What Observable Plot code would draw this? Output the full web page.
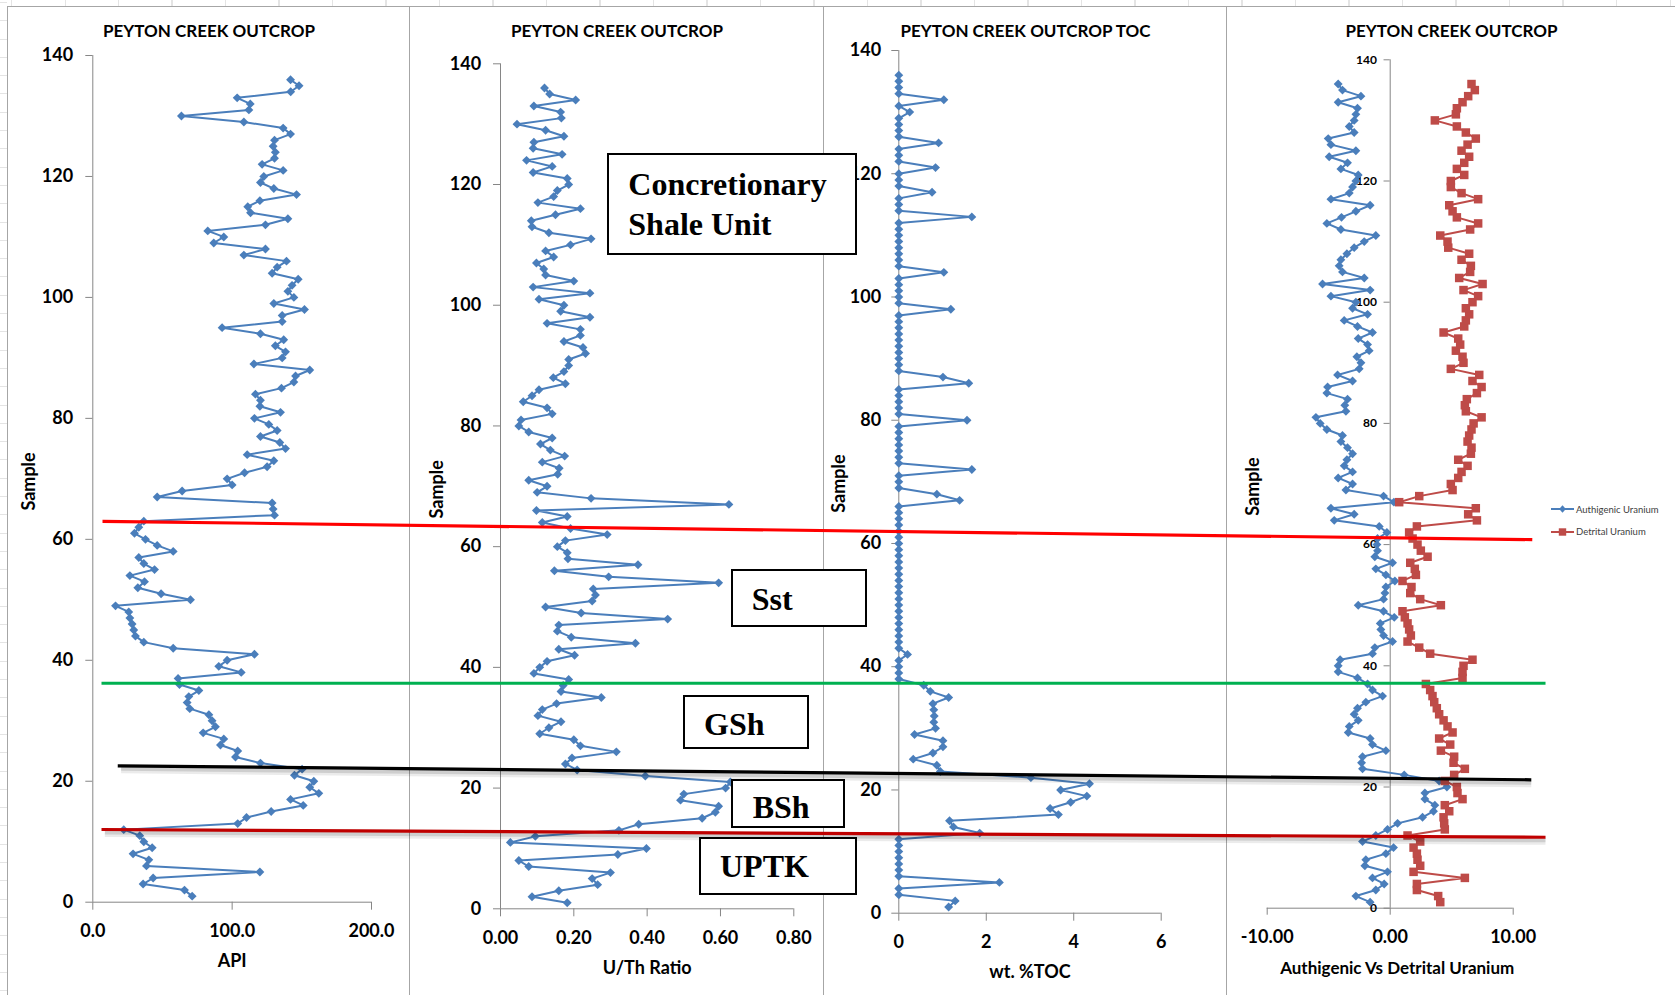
<!DOCTYPE html>
<html>
<head>
<meta charset="utf-8">
<script src="https://cdn.jsdelivr.net/npm/d3@7"></script>
<script src="https://cdn.jsdelivr.net/npm/@observablehq/plot@0.6"></script>
<style>
  html, body { margin: 0; padding: 0; background: #fff; }
  #page { position: relative; width: 1675px; height: 995px; overflow: hidden; background: #fff; font-family: Lato, "Liberation Sans", sans-serif; }
  .abs { position: absolute; }
  .vline { position: absolute; width: 1px; background: #a6a6a6; }
  .hline { position: absolute; height: 1px; background: #a6a6a6; }
  .box { position: absolute; box-sizing: border-box; border: 2px solid #000; background: #fff; color: #000;
         font-family: "Liberation Serif", "Times New Roman", serif; font-weight: bold; font-size: 32px; line-height: 40px; white-space: nowrap; }
  .legend-row { position: absolute; display: flex; align-items: center; font-family: Lato, "Liberation Sans", sans-serif; font-size: 9.5px; color: #404040; white-space: nowrap; }
</style>
</head>
<body>
<div id="page"></div>
<script>
// ---------------- DATA ----------------
const sample = [1,2,3,4,5,6,7,8,9,10,11,12,13,14,15,16,17,18,19,20,21,22,23,24,25,26,27,28,29,30,31,32,33,34,35,36,37,38,39,40,41,42,43,44,45,46,47,48,49,50,51,52,53,54,55,56,57,58,59,60,61,62,63,64,65,66,67,68,69,70,71,72,73,74,75,76,77,78,79,80,81,82,83,84,85,86,87,88,89,90,91,92,93,94,95,96,97,98,99,100,101,102,103,104,105,106,107,108,109,110,111,112,113,114,115,116,117,118,119,120,121,122,123,124,125,126,127,128,129,130,131,132,133,134,135,136];

// Gamma ray (API) per sample
const api = [71.3,65.8,36.1,43.3,119.9,38.5,40.2,28.9,42.6,36.6,
  33.7,22.2,104,110.3,128,151,141.9,162.2,155.7,158.6,
  144.7,150.2,120.3,102.4,104,91.6,94,79.2,88,85.6,
  83.3,69.6,67.7,68.9,76.1,62.2,61.2,106.5,90.4,96.4,
  116,57.7,36.6,30.6,29.4,28.2,26.6,25.8,16.3,70.1,
  49,32.3,37.1,26.6,44.3,36.6,33,57.7,46.2,37.8,
  29.9,33,36.6,130.4,129.4,128.7,46.2,64.1,100,96.4,
  108.9,125.1,129.9,110.8,138.3,134.2,120.3,132.3,126.3,116,
  134.7,119.9,120.3,116.7,135.4,144.3,145.5,155.7,115.6,135.9,
  138.3,131,137,120.3,92.8,135.9,135.9,151.9,129.9,144.3,
  140,143,147.4,128.7,132.3,139,108.4,123.9,86.8,94,
  82.5,123.9,140,113.2,111.2,119.9,146.2,129.9,120.3,122.7,
  136.6,121.5,130.4,131,129.4,130.4,141.9,136.6,108.4,63.6,
  112,113,103.6,142,148,141.9];

// U/Th ratio per sample
const uth = [0.182,0.086,0.159,0.265,0.25,0.3,0.077,0.05,0.32,0.398,
  0.027,0.095,0.323,0.377,0.55,0.586,0.595,0.491,0.5,0.614,
  0.627,0.395,0.209,0.177,0.195,0.316,0.218,0.2,0.107,0.132,
  0.165,0.102,0.114,0.153,0.275,0.165,0.171,0.186,0.091,0.107,
  0.127,0.202,0.159,0.368,0.193,0.155,0.159,0.456,0.22,0.123,
  0.25,0.259,0.253,0.595,0.295,0.147,0.375,0.184,0.182,0.155,
  0.177,0.291,0.191,0.114,0.182,0.098,0.623,0.247,0.1,0.127,
  0.077,0.156,0.16,0.114,0.175,0.136,0.109,0.141,0.077,0.05,
  0.056,0.141,0.127,0.062,0.086,0.105,0.177,0.144,0.173,0.186,
  0.186,0.232,0.225,0.173,0.218,0.218,0.127,0.244,0.164,0.173,
  0.105,0.244,0.089,0.2,0.123,0.118,0.098,0.145,0.123,0.191,
  0.247,0.132,0.086,0.084,0.15,0.218,0.102,0.145,0.155,0.186,
  0.182,0.089,0.141,0.071,0.168,0.089,0.091,0.173,0.123,0.045,
  0.166,0.164,0.091,0.205,0.134,0.12];

// wt. % TOC per sample
const toc = [1.14,1.29,0,0,2.3,0,0,0,0,0,
  0,0,1.85,1.25,1.16,3.65,3.46,3.93,4.3,3.7,
  4.36,3.02,0.95,0.87,0.33,0.78,1.01,1.01,0.36,0.84,
  0.8,0.81,0.8,0.78,1.14,0.72,0.57,0,0,0,
  0,0.2,0,0,0,0,0,0,0,0,
  0,0,0,0,0,0,0,0,0,0,
  0,0,0,0,0,0,1.39,0.87,0,0,
  0,1.67,0,0,0,0,0,0,0,1.56,
  0,0,0,0,0,1.6,1.01,0,0,0,
  0,0,0,0,0,0,0,1.19,0,0,
  0,0,0,1.03,0,0,0,0,0,0,
  0,0,1.67,0,0,0,0.76,0,0,0,
  0.84,0,0,0,0.91,0,0,0,0,0.25,
  0,1.03,0,0,0,0];

// Authigenic uranium per sample
const authigenic = [-1.63,-2.79,-1.17,-0.49,-1.44,-0.22,-2.06,-1.98,-0.35,0.27,
  -2.25,-1.17,-0.22,0.6,2.63,3.52,3.63,2.82,2.82,4.61,
  3.98,1.14,-2.25,-2.33,-2.25,-0.35,-1.44,-1.63,-3.41,-3.33,
  -2.6,-2.93,-2.66,-1.98,-0.62,-1.44,-1.84,-2.66,-4.23,-4.23,
  -4.07,-1.44,-1.25,0.19,-0.54,-0.76,-0.81,0.33,-0.54,-2.6,
  -0.54,-0.43,-0.35,0.38,-0.35,-1.17,0.19,-1.25,-1.03,-1.08,
  -1.03,-0.27,-0.89,-4.55,-2.93,-4.82,0.3,-0.54,-3.6,-3.06,
  -4.23,-3.06,-3.74,-3.52,-3.06,-3.47,-4.01,-3.88,-5.15,-5.69,
  -6.04,-3.6,-3.69,-3.47,-5.15,-5.09,-3.06,-4.28,-2.52,-2.38,
  -2.71,-1.71,-1.84,-2.6,-1.44,-2.66,-3.74,-1.84,-3.06,-2.79,
  -4.82,-1.63,-5.5,-2.11,-3.88,-4.15,-4.01,-3.52,-2.93,-2.11,
  -1.17,-4.01,-5.15,-3.96,-2.79,-1.63,-4.82,-3.33,-3.06,-2.79,
  -2.6,-4.01,-3.47,-4.96,-2.79,-4.82,-5.04,-2.93,-3.33,-2.93,
  -2.79,-2.66,-4.23,-2.38,-3.88,-4.23];

// Detrital uranium per sample
const detrital = [4.07,3.9,2.17,2.17,6.07,1.9,2.44,2.22,2.17,1.9,
  2.44,1.41,4.44,4.39,4.34,4.8,4.44,5.88,5.47,5.42,
  4.44,5.2,6.07,5.15,5.2,4.12,4.88,3.98,5.07,4.66,
  4.34,3.98,3.79,3.58,3.44,3.25,2.9,5.88,5.88,5.96,
  6.69,3.25,2.36,1.41,1.68,1.54,1.41,1.19,1.0,4.12,
  2.44,1.63,1.73,1.0,2.09,2.0,1.63,3.04,2.49,2.22,
  1.82,1.54,2.17,7.05,6.34,6.96,0.73,2.36,5.07,4.93,
  5.53,5.8,6.29,5.53,6.56,6.61,6.29,6.42,6.61,6.78,
  7.43,6.15,6.07,6.23,7.05,7.43,6.69,7.24,4.93,5.96,
  5.88,5.34,5.69,5.53,4.34,6.02,6.15,6.42,6.15,6.69,
  7.15,5.96,7.51,5.61,6.5,6.56,5.8,6.42,4.72,4.66,
  4.07,6.5,7.15,5.42,5.07,4.8,7.15,5.8,4.93,4.93,
  6.02,5.42,6.02,6.42,5.8,6.29,6.96,6.15,5.42,3.63,
  5.34,5.42,5.88,6.34,6.88,6.61];

// tick labels
const sampleTicks = [0,20,40,60,80,100,120,140];
const apiTicks = [0,100,200];
const uthTicks = [0,0.2,0.4,0.6,0.8];
const tocTicks = [0,2,4,6];
const uraniumTicks = [-10,0,10];

// unit boundaries (sample level at left end / right end of each drawn line)
const boundaryNames = ["Concretionary Shale Unit / Sst", "Sst / GSh", "GSh / BSh", "BSh / UPTK"];
const boundaryLeft  = [62.98, 36.2, 22.55, 12.02];
const boundaryRight = [59.95, 36.2, 20.24, 10.74];

// unit labels
const unitLabels = [["Concretionary", "Shale Unit"], ["Sst"], ["GSh"], ["BSh"], ["UPTK"]];

// ---------------- STYLE ----------------
const BLUE = "#4a7ebb";
const RED = "#be4b48";
const AXIS = "#868686";
const FONT = 'Lato, "Liberation Sans", sans-serif';
const H = 995;

const rows = sample.map((s, i) => ({sample: s, api: api[i], uth: uth[i], toc: toc[i], auth: authigenic[i], detr: detrital[i]}));

const root = document.getElementById("page");
function place(node, left, top, z) {
  const w = document.createElement("div");
  w.className = "abs";
  w.style.left = left + "px"; w.style.top = top + "px"; w.style.zIndex = z;
  w.appendChild(node);
  root.appendChild(w);
  return w;
}

// background spreadsheet / chart-area borders
(function borders() {
  const top = document.createElement("div");
  top.className = "abs";
  top.style.cssText = "left:0;top:0;width:1675px;height:6px;background-image:repeating-linear-gradient(to right,#e4e4e4 0 1px,transparent 1px 53.5px);background-position:11px 0;";
  root.appendChild(top);
  const left = document.createElement("div");
  left.className = "abs";
  left.style.cssText = "left:0;top:0;width:7px;height:995px;background-image:repeating-linear-gradient(to bottom,#e4e4e4 0 1px,transparent 1px 18.3px);background-position:0 2px;";
  root.appendChild(left);
  const h = document.createElement("div"); h.className = "hline";
  h.style.left = "7px"; h.style.top = "6px"; h.style.width = "1668px"; root.appendChild(h);
  for (const x of [7, 409, 823, 1226]) {
    const v = document.createElement("div"); v.className = "vline";
    v.style.left = x + "px"; v.style.top = "6px"; v.style.height = "989px"; root.appendChild(v);
  }
})();

const baseStyle = {background: "transparent", overflow: "visible", fontFamily: FONT, fontWeight: "bold", color: "#000"};

function titleMark(text, cfg, size = 17) {
  return Plot.text([text], {text: d => d, frameAnchor: "top", lineAnchor: "middle", textAnchor: "middle", dx: (cfg.mr - cfg.ml) / 2, dy: 30.6 - cfg.mt, fontSize: size, fontWeight: "bold", fill: "#000"});
}
function xTitle(text, dy, dx = 0, size = 18) {
  return Plot.text([text], {text: d => d, frameAnchor: "bottom", lineAnchor: "middle", textAnchor: "middle", dx, dy, fontSize: size, fontWeight: "bold", fill: "#000"});
}
function yTitle(dx, dy) {
  return Plot.text(["Sample"], {text: d => d, frameAnchor: "left", lineAnchor: "middle", textAnchor: "middle", rotate: -90, dx, dy, fontSize: 18, fontWeight: "bold", fill: "#000"});
}
function stdAxes(xDomain, xTicks, fmt, yPad) {
  return [
    Plot.ruleY([0], {x1: xDomain[0], x2: xDomain[1], stroke: AXIS}),
    Plot.ruleX([xDomain[0]], {y1: 0, y2: 140, stroke: AXIS}),
    Plot.axisY({ticks: sampleTicks, tickSize: 7, tickPadding: yPad, stroke: AXIS, fill: "#000", fontSize: 18, fontWeight: "bold", label: null}),
    Plot.axisX({ticks: xTicks, tickFormat: fmt, tickSize: 8, tickPadding: 14, stroke: AXIS, fill: "#000", fontSize: 18, fontWeight: "bold", label: null})
  ];
}
function profile(key, color, symbol, r) {
  return [
    Plot.line(rows, {x: key, y: "sample", stroke: color, strokeWidth: 2}),
    Plot.dot(rows, {x: key, y: "sample", symbol, r, fill: color, stroke: "none"})
  ];
}

// ---------- Panel 1: API ----------
{
  const cfg = {left: 8, width: 401, ml: 84.3, mr: 38, mt: 55, mb: 93.3};
  const chart = Plot.plot({
    width: cfg.width, height: H, marginLeft: cfg.ml, marginRight: cfg.mr, marginTop: cfg.mt, marginBottom: cfg.mb,
    x: {domain: [0, 200]}, y: {domain: [0, 140]}, style: baseStyle,
    marks: [
      ...stdAxes([0, 200], apiTicks, d => d.toFixed(1), 12.6),
      ...profile("api", BLUE, "diamond2", 4),
      titleMark("PEYTON CREEK OUTCROP", cfg),
      xTitle("API", 59.3),
      yTitle(-63.3, 2.6)
    ]
  });
  place(chart, cfg.left, 0, 2);
}

// ---------- Panel 2: U/Th ----------
{
  const cfg = {left: 410, width: 413, ml: 90, mr: 29.7, mt: 63.3, mb: 86.7};
  const chart = Plot.plot({
    width: cfg.width, height: H, marginLeft: cfg.ml, marginRight: cfg.mr, marginTop: cfg.mt, marginBottom: cfg.mb,
    x: {domain: [0, 0.8]}, y: {domain: [0, 140]}, style: baseStyle,
    marks: [
      ...stdAxes([0, 0.8], uthTicks, d => d.toFixed(2), 12.3),
      ...profile("uth", BLUE, "diamond2", 4),
      titleMark("PEYTON CREEK OUTCROP", cfg),
      xTitle("U/Th Ratio", 59),
      yTitle(-63.5, 3)
    ]
  });
  place(chart, cfg.left, 0, 2);
}

// ---------- Panel 3: TOC ----------
{
  const cfg = {left: 824, width: 402, ml: 74.3, mr: 65.3, mt: 50, mb: 82.3};
  const chart = Plot.plot({
    width: cfg.width, height: H, marginLeft: cfg.ml, marginRight: cfg.mr, marginTop: cfg.mt, marginBottom: cfg.mb,
    x: {domain: [0, 6]}, y: {domain: [0, 140]}, style: baseStyle,
    marks: [
      ...stdAxes([0, 6], tocTicks, d => String(d), 10.6),
      ...profile("toc", BLUE, "diamond2", 4),
      titleMark("PEYTON CREEK OUTCROP TOC", cfg),
      xTitle("wt. %TOC", 58.6),
      yTitle(-60, 1.7)
    ]
  });
  place(chart, cfg.left, 0, 2);
}

// ---------- Panel 4: Authigenic vs Detrital Uranium ----------
{
  const cfg = {left: 1227, width: 448, ml: 39.7, mr: 162.3, mt: 59.3, mb: 87.3};
  const chart = Plot.plot({
    width: cfg.width, height: H, marginLeft: cfg.ml, marginRight: cfg.mr, marginTop: cfg.mt, marginBottom: cfg.mb,
    x: {domain: [-10, 10]}, y: {domain: [0, 140], axis: null}, style: baseStyle,
    marks: [
      Plot.ruleY([0], {x1: -10, x2: 10, stroke: AXIS}),
      Plot.ruleX([0], {y1: 0, y2: 140, stroke: AXIS}),
      Plot.ruleY(sampleTicks, {y: d => d, x1: 0, x2: -0.5, stroke: AXIS}),
      Plot.text(sampleTicks, {x: 0, y: d => d, text: d => String(d), textAnchor: "end", dx: -13.3, fontSize: 12, fontWeight: "bold", fill: "#000"}),
      Plot.axisX({ticks: uraniumTicks, tickFormat: d => d.toFixed(2), tickSize: 7, tickPadding: 15, stroke: AXIS, fill: "#000", fontSize: 18, fontWeight: "bold", label: null}),
      ...profile("auth", BLUE, "diamond2", 4),
      ...profile("detr", RED, "square", 4.8),
      titleMark("PEYTON CREEK OUTCROP", cfg),
      xTitle("Authigenic Vs Detrital Uranium", 60.3, 7, 17),
      yTitle(-13.7, 2.5)
    ]
  });
  place(chart, cfg.left, 0, 2);

  // legend
  const legendItems = [
    {name: "Authigenic Uranium", color: BLUE, shape: "diamond", top: 503},
    {name: "Detrital Uranium", color: RED, shape: "square", top: 525.5}
  ];
  for (const it of legendItems) {
    const row = document.createElement("div");
    row.className = "legend-row";
    row.style.left = "1551px"; row.style.top = it.top + "px"; row.style.zIndex = 5;
    const marker = it.shape === "diamond"
      ? `<path d="M11.5,2.2 L14.8,6 L11.5,9.8 L8.2,6 Z" fill="${it.color}"/>`
      : `<rect x="7.8" y="2.3" width="7.4" height="7.4" fill="${it.color}"/>`;
    row.innerHTML = `<svg width="24" height="12" style="display:block"><line x1="0" y1="6" x2="23" y2="6" stroke="${it.color}" stroke-width="2"/>${marker}</svg><span style="margin-left:1px">${it.name}</span>`;
    root.appendChild(row);
  }
}

// ---------- Overlay: unit boundaries ----------
{
  const bRows = boundaryNames.map((name, i) => ({name, left: boundaryLeft[i], right: boundaryRight[i]}));
  const lineStyle = {
    "Concretionary Shale Unit / Sst": {stroke: "#ff0000", from: 0.0609, to: 0.9145, shadow: false},
    "Sst / GSh": {stroke: "#00b050", from: 0.0603, to: 0.9224, shadow: false},
    "GSh / BSh": {stroke: "#000000", from: 0.0700, to: 0.9139, shadow: true},
    "BSh / UPTK": {stroke: "#c00000", from: 0.0603, to: 0.9224, shadow: true}
  };
  const shadowed = bRows.filter(d => lineStyle[d.name].shadow);
  const overlay = Plot.plot({
    width: 1675, height: H, marginLeft: 0, marginRight: 0, marginTop: 55, marginBottom: 93.3,
    x: {domain: [0, 1], axis: null}, y: {domain: [0, 140], axis: null},
    style: {background: "transparent", overflow: "visible"},
    marks: [
      Plot.link(shadowed, {x1: d => lineStyle[d.name].from + 0.002, x2: d => lineStyle[d.name].to, y1: "left", y2: "right", stroke: "#000", strokeOpacity: 0.08, strokeWidth: 9, dy: 3}),
      Plot.link(shadowed, {x1: d => lineStyle[d.name].from + 0.002, x2: d => lineStyle[d.name].to, y1: "left", y2: "right", stroke: "#000", strokeOpacity: 0.12, strokeWidth: 5, dy: 2.5}),
      Plot.link(bRows, {x1: d => lineStyle[d.name].from, x2: d => lineStyle[d.name].to, y1: "left", y2: "right", stroke: d => lineStyle[d.name].stroke, strokeWidth: 3.2})
    ]
  });
  const w = place(overlay, 0, 0, 3);
  w.style.pointerEvents = "none";
}

// ---------- Unit label boxes ----------
{
  const boxLayout = [
    {left: 606.7, top: 152.7, width: 250.6, height: 102.3, pl: 19.6, pt: 9.5},
    {left: 730.7, top: 569, width: 136, height: 57.7, pl: 19, pt: 7.5},
    {left: 682.7, top: 695, width: 126.3, height: 53.7, pl: 19.3, pt: 7.2},
    {left: 730.7, top: 779.3, width: 114.3, height: 49, pl: 20, pt: 6.2},
    {left: 698.7, top: 837.3, width: 158, height: 57.7, pl: 19.3, pt: 7.2}
  ];
  unitLabels.forEach((lines, i) => {
    const b = boxLayout[i];
    const el = document.createElement("div");
    el.className = "box";
    el.style.cssText += `left:${b.left}px;top:${b.top}px;width:${b.width}px;height:${b.height}px;padding-left:${b.pl}px;padding-top:${b.pt}px;z-index:6;`;
    el.innerHTML = lines.map(t => `<div>${t}</div>`).join("");
    root.appendChild(el);
  });
}
</script>
</body>
</html>
